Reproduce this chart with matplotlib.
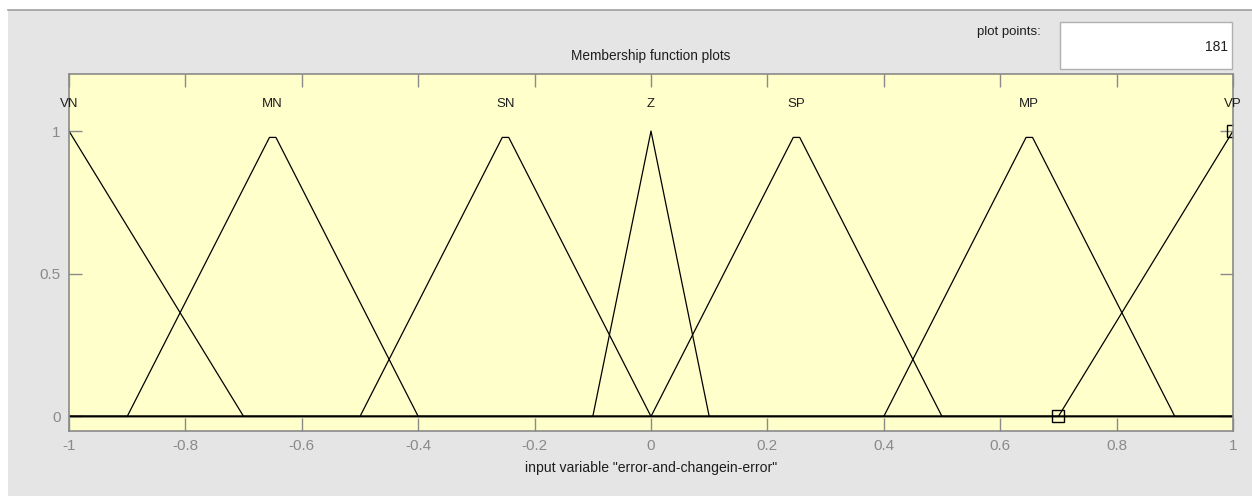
import numpy as np
import matplotlib
matplotlib.use("Agg")
import matplotlib.pyplot as plt
from matplotlib.patches import Rectangle
from matplotlib.lines import Line2D

# membership functions of the input variable (trimf parameters)
mf_names = ["VN", "MN", "SN", "Z", "SP", "MP", "VP"]
mf_params = [
    [-1.3, -1.0, -0.7],
    [-0.9, -0.65, -0.4],
    [-0.5, -0.25, 0.0],
    [-0.1, 0.0, 0.1],
    [0.0, 0.25, 0.5],
    [0.4, 0.65, 0.9],
    [0.7, 1.0, 1.3],
]
plot_points = 181
x_range = [-1, 1]
x_ticks = [-1, -0.8, -0.6, -0.4, -0.2, 0, 0.2, 0.4, 0.6, 0.8, 1]
y_ticks = [0, 0.5, 1]
selected_mf = "VP"


def trimf(x, a, b, c):
    left = (x - a) / (b - a)
    right = (c - x) / (c - b)
    return np.maximum(np.minimum(left, right), 0)


plt.rcParams["font.family"] = ["Liberation Sans", "DejaVu Sans"]
txt = "#1e1e1e"
grey = "#8a8a8a"
fs = 9.5

fig = plt.figure(figsize=(12.52, 4.96), dpi=100, facecolor="white")
W, H = 1252, 496
fig.patches.append(Rectangle((8 / W, 0), 1 - 8 / W, 1 - 10 / H, transform=fig.transFigure,
                             facecolor="#e5e5e5", edgecolor="none", zorder=-5))
fig.lines.append(Line2D([8 / W, 1], [1 - 9.5 / H] * 2, transform=fig.transFigure,
                        color="#a0a0a0", lw=1.2, zorder=-4))

# plot points box
fig.patches.append(Rectangle((1060 / W, 1 - 69 / H), 172 / W, 47 / H, transform=fig.transFigure,
                             facecolor="white", edgecolor="#b0b0b0", lw=1, zorder=1))
fig.text(1041 / W, 1 - 32 / H, "plot points:", ha="right", va="center", fontsize=fs, color=txt)
fig.text(1228 / W, 1 - 47 / H, str(plot_points), ha="right", va="center", fontsize=10, color=txt)

ax = fig.add_axes([69 / W, 1 - 430.7 / H, 1164 / W, 356.7 / H])
ax.set_facecolor("#ffffcc")

x = np.linspace(x_range[0], x_range[1], plot_points)
ax.plot(x_range, [0, 0], color="black", lw=1)
for name, p in zip(mf_names, mf_params):
    y = trimf(x, *p)
    ax.plot(x, y, color="black", lw=0.9)
    ax.text(p[1], 1.095, name, ha="center", va="center", fontsize=fs, color=txt)

sel = mf_params[mf_names.index(selected_mf)]
ax.plot([sel[1], sel[0]], [1, 0], ls="none", marker="s", markersize=8,
        markerfacecolor="none", markeredgecolor="black", markeredgewidth=1)

ax.set_xlim(x_range)
ax.set_ylim(-0.05, 1.2)
ax.set_xticks(x_ticks)
ax.set_xticklabels([f"{t:g}" for t in x_ticks])
ax.set_yticks(y_ticks)
ax.set_yticklabels([f"{t:g}" for t in y_ticks])
ax.tick_params(direction="in", length=9.5, width=1, color=grey, labelcolor=grey,
               labelsize=11, top=True, right=True, pad=6)
for s in ax.spines.values():
    s.set_color(grey)
    s.set_linewidth(1.2)

ax.set_title("Membership function plots", fontsize=9.8, color=txt, pad=10)
ax.set_xlabel('input variable "error-and-changein-error"', fontsize=10.1, color=txt, labelpad=6)

fig.savefig("out.png", dpi=100, facecolor=fig.get_facecolor())
